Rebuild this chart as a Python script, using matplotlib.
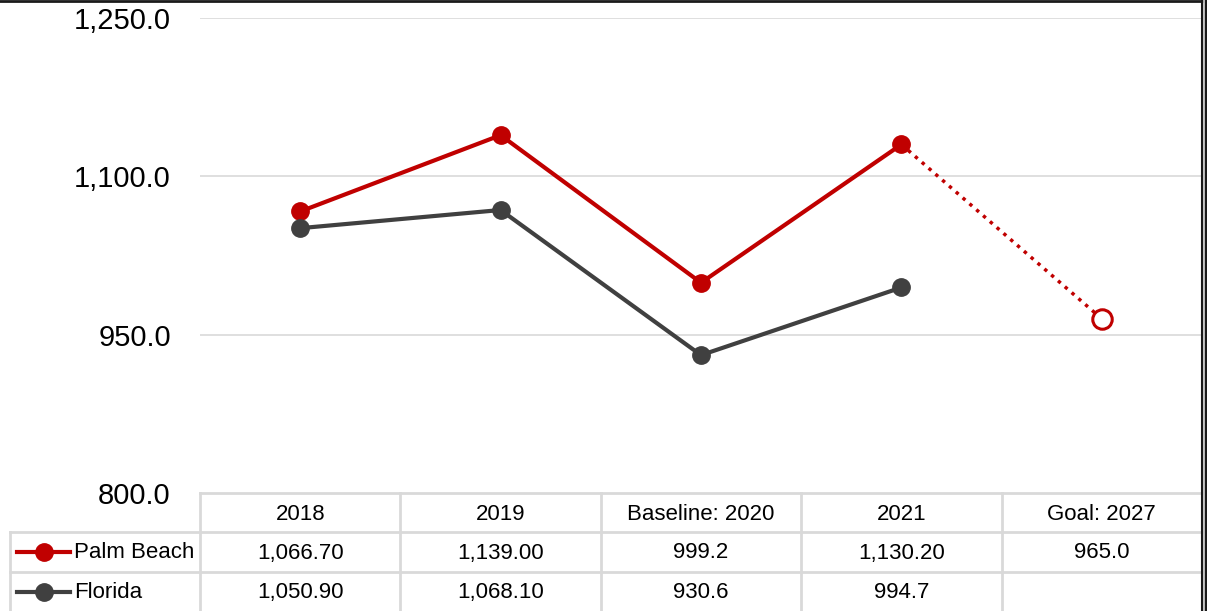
import matplotlib
matplotlib.use("Agg")
import matplotlib.pyplot as plt
from matplotlib.lines import Line2D

categories = ["2018", "2019", "Baseline: 2020", "2021", "Goal: 2027"]
palm_beach = [1066.7, 1139.0, 999.2, 1130.2]
palm_goal = 965.0
florida = [1050.9, 1068.1, 930.6, 994.7]
palm_labels = ["1,066.70", "1,139.00", "999.2", "1,130.20", "965.0"]
florida_labels = ["1,050.90", "1,068.10", "930.6", "994.7", ""]
series_names = ["Palm Beach", "Florida"]
yticks = [800, 950, 1100, 1250]

RED = "#C00000"
GRAY = "#404040"
GRID = "#D9D9D9"
FONT = ["Liberation Sans Narrow", "Liberation Sans", "DejaVu Sans"]
plt.rcParams["font.family"] = FONT

W, H = 1207, 611
fig = plt.figure(figsize=(W / 100, H / 100), dpi=100)

L, R, T, B = 200, 1202, 18, 493
ax = fig.add_axes([L / W, 1 - B / H, (R - L) / W, (B - T) / H])
ax.set_xlim(-0.5, 4.5)
ax.set_ylim(800, 1250)
for s in ax.spines.values():
    s.set_visible(False)
ax.set_yticks(yticks)
ax.set_yticklabels([f"{v:,.1f}" for v in yticks], fontsize=21, color="#000000")
ax.tick_params(axis="y", length=0, pad=21)
ax.set_xticks([])
for v in yticks[1:]:
    ax.axhline(v, color=GRID, lw=1.2, zorder=0)

x = list(range(len(palm_beach)))
ax.plot(x, palm_beach, color=RED, lw=3, marker="o", ms=12.5, zorder=3)
ax.plot(x, florida, color=GRAY, lw=3, marker="o", ms=12.5, zorder=3)
ax.plot([x[-1], 4], [palm_beach[-1], palm_goal], color=RED, lw=2.5, ls=(0, (1, 1.6)), zorder=2)
ax.plot([4], [palm_goal], marker="o", ms=14, mfc="white", mec=RED, mew=2.2, ls="none", zorder=3)

# table overlay
ov = fig.add_axes([0, 0, 1, 1])
ov.set_xlim(0, W)
ov.set_ylim(H, 0)
ov.axis("off")
ov.patch.set_alpha(0)

rows_y = [493, 532, 572, 611]
lw = 2
ov.plot([L, R], [rows_y[0], rows_y[0]], color=GRID, lw=lw)
for yy in rows_y[1:3]:
    ov.plot([10, R], [yy, yy], color=GRID, lw=lw)
ov.plot([10, 10], [rows_y[1], H], color=GRID, lw=lw)
colw = (R - L) / len(categories)
for i in range(len(categories)):
    xx = L + i * colw
    ov.plot([xx, xx], [rows_y[0], H], color=GRID, lw=lw)

FS = 16
for i, c in enumerate(categories):
    cx = L + (i + 0.5) * colw
    ov.text(cx, (rows_y[0] + rows_y[1]) / 2 + 2, c, ha="center", va="center", fontsize=FS)
    ov.text(cx, (rows_y[1] + rows_y[2]) / 2 + 1, palm_labels[i], ha="center", va="center", fontsize=FS)
    ov.text(cx, (rows_y[2] + rows_y[3]) / 2 + 1, florida_labels[i], ha="center", va="center", fontsize=FS)

for name, col, r in [(series_names[0], RED, 1), (series_names[1], GRAY, 2)]:
    cy = (rows_y[r] + rows_y[r + 1]) / 2
    ov.add_line(Line2D([17, 70], [cy, cy], color=col, lw=3))
    ov.add_line(Line2D([44], [cy], color=col, marker="o", ms=12.5))
    ov.text(74, cy + 1, name, ha="left", va="center", fontsize=FS)

# outer borders
ov.plot([0, W], [0.8, 0.8], color="#1a1a1a", lw=2)
ov.plot([1201.5, 1201.5], [0, H], color="#1a1a1a", lw=1.5)
ov.plot([1203.5, 1203.5], [0, H], color="#BFBFBF", lw=2)
ov.plot([1205.5, 1205.5], [0, H], color="#1a1a1a", lw=1.5)

fig.savefig("out.png", dpi=100)
